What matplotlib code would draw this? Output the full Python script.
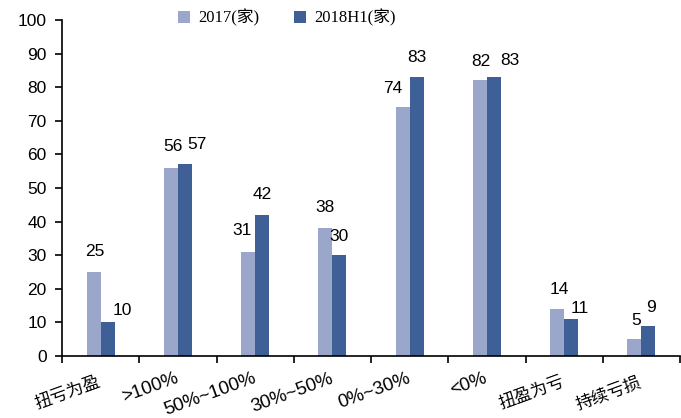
import numpy as np
import matplotlib.pyplot as plt
import matplotlib.transforms as mtransforms

categories = ['扭亏为盈', '>100%', '50%~100%', '30%~50%', '0%~30%', '<0%', '扭盈为亏', '持续亏损']
values_2017 = [25, 56, 31, 38, 74, 82, 14, 5]
values_2018h1 = [10, 57, 42, 30, 83, 83, 11, 9]
series_names = ['2017(家)', '2018H1(家)']

# label nudges in pixels (dx, dy above bar top)
nudge_2017 = [(1, 20), (2, 21), (-6, 21), (0, 21), (-10, 19), (1, 19), (2, 19), (2, 19)]
nudge_2018 = [(15, 12), (12, 20), (0, 20), (0, 19), (0, 20), (16, 17), (9, 11), (3, 18)]

plt.rcParams['font.family'] = ['Liberation Sans', 'Noto Sans CJK SC']

fig = plt.figure(figsize=(6.81, 4.18), dpi=100)
ax = fig.add_axes([62 / 681, 62 / 418, 618 / 681, 336 / 418])

x = np.arange(len(categories))
w = 0.182
c1, c2 = '#9AA7CB', '#3F6096'
b1 = ax.bar(x - w / 2, values_2017, w, color=c1, label=series_names[0])
b2 = ax.bar(x + w / 2, values_2018h1, w, color=c2, label=series_names[1])

px = 72 / 100
for bars, vals, nudges in ((b1, values_2017, nudge_2017), (b2, values_2018h1, nudge_2018)):
    for rect, v, (dx, dy) in zip(bars, vals, nudges):
        ax.annotate(f'{v}', (rect.get_x() + rect.get_width() / 2, v),
                    xytext=(dx * px, dy * px), textcoords='offset points',
                    ha='center', va='center', fontsize=12.5)

ax.set_xlim(-0.5, len(categories) - 0.5)
ax.set_ylim(0, 100)
ax.set_yticks(range(0, 101, 10))
ax.set_xticks(np.arange(len(categories) + 1) - 0.5)
ax.set_xticklabels([])
ax.tick_params(axis='x', length=5, width=1.2, direction='out')
ax.tick_params(axis='y', length=5, width=1.2, direction='out', labelsize=12.5, pad=6)

# slanted category names, top-right corner under each group
for xi, name in zip(x, categories):
    cjk = not any(ch.isdigit() for ch in name)
    dy = -18 if cjk else -14
    shift = mtransforms.ScaledTranslation(-3 / 100, dy / 100, fig.dpi_scale_trans)
    ax.text(xi, 0, name, transform=ax.get_xaxis_transform() + shift,
            rotation=20, rotation_mode='anchor', ha='right', va='top',
            fontsize=12.3 if cjk else 13.5)

for side in ('top', 'right'):
    ax.spines[side].set_visible(False)
for side in ('left', 'bottom'):
    ax.spines[side].set_linewidth(1.2)

fig.legend(loc='center left', bbox_to_anchor=(178 / 681, 1 - 18 / 418), ncol=2, frameon=False,
           handlelength=0.7, handleheight=0.7, columnspacing=2.1, handletextpad=0.5,
           borderaxespad=0, borderpad=0,
           prop={'family': ['Liberation Serif', 'Noto Sans CJK SC'], 'size': 12})

fig.savefig('out.png', dpi=100)
